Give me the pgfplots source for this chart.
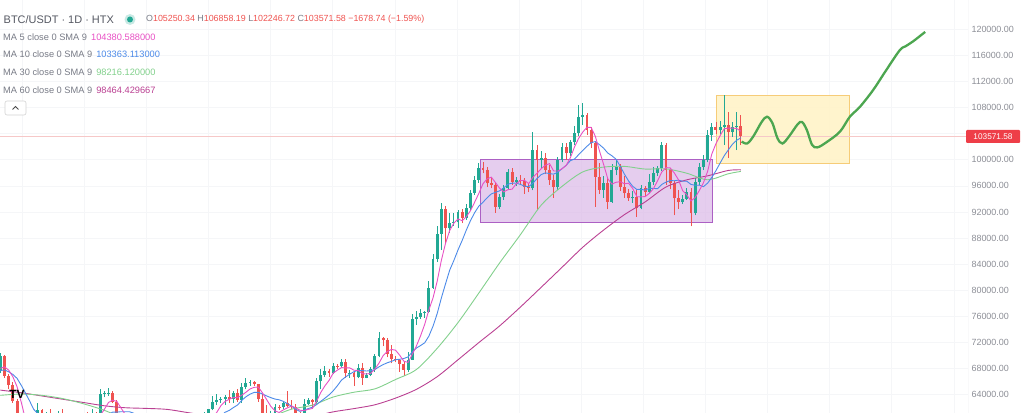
\documentclass[border=0pt]{standalone}
\usepackage{pgfplots}
\pgfplotsset{compat=1.18}
\usepackage{pgfplotstable}
\usepackage{fontspec}
\setmainfont{Liberation Sans}
\definecolor{up}{RGB}{34,168,148}
\definecolor{dn}{RGB}{239,83,80}
\definecolor{ma5}{RGB}{232,80,196}
\definecolor{ma10}{RGB}{76,138,232}
\definecolor{ma30}{RGB}{130,208,140}
\definecolor{ma60}{RGB}{186,64,146}
\definecolor{lbl}{RGB}{120,123,134}
\definecolor{ttl}{RGB}{85,88,98}
\definecolor{tickc}{RGB}{140,142,150}
\definecolor{gridc}{RGB}{245,246,248}
\definecolor{proj}{RGB}{76,166,80}
\definecolor{boxp}{RGB}{222,192,234}
\definecolor{boxpe}{RGB}{172,96,196}
\definecolor{boxy}{RGB}{255,243,200}
\definecolor{boxye}{RGB}{246,204,120}
\definecolor{pricered}{RGB}{238,62,72}
\definecolor{axl}{RGB}{205,207,212}
\definecolor{pline}{RGB}{246,200,200}

\pgfplotstableread{
d o h l c
0 67600 70400 67300 69900
1 69900 70100 66600 66900
2 66900 67200 64800 65500
3 65500 66000 62800 63100
4 63100 63400 60500 60700
5 60700 61100 57200 58100
6 58100 58300 49000 54000
7 54000 57000 53900 56000
8 56000 57700 54500 55100
9 55100 62700 54700 61700
10 61700 61800 59700 60900
11 60900 61400 60300 60950
12 60950 61800 58400 58700
13 58700 60700 57600 59350
14 59350 61500 58500 60600
15 60600 61800 58400 58700
16 58700 59800 56100 57550
17 57550 59800 57100 58900
18 58900 59700 58800 59500
19 59500 60300 58400 58450
20 58450 59600 57800 59500
21 59500 61400 58600 59000
22 59000 61800 58800 61150
23 61150 61400 59800 60400
24 60400 64900 60300 64100
25 64100 64500 63600 64200
26 64200 65000 63800 64250
27 64250 64500 62800 62850
28 62850 63200 58100 59400
29 59400 60200 57800 59050
30 59050 61200 58700 59400
31 59400 59800 57700 59100
32 59100 59400 58700 58950
33 58950 59000 57200 57300
34 57300 59400 57100 59100
35 59100 59800 57400 57500
36 57500 58500 55600 57950
37 57950 58300 55700 56150
38 56150 56900 52500 53950
39 53950 54800 53700 54150
40 54150 55300 53600 54850
41 54850 58100 54600 57050
42 57050 58000 56400 57650
43 57650 57900 55500 57350
44 57350 58600 57300 58100
45 58100 60600 57600 60500
46 60500 60600 59400 60000
47 60000 60400 58700 59150
48 59150 59200 57500 58200
49 58200 61300 57600 60300
50 60300 61800 59200 61750
51 61750 63800 61600 62950
52 62950 64100 62400 63200
53 63200 63600 62800 63350
54 63350 64000 62400 63600
55 63600 64700 62700 63350
56 63350 64500 62700 64300
57 64300 64800 62900 63150
58 63150 65800 62700 65200
59 65200 66500 64800 65800
60 65800 66300 65400 65900
61 65900 66100 65400 65600
62 65600 65700 62900 63300
63 63300 64100 60200 60800
64 60800 62400 59900 60650
65 60650 61500 59800 60750
66 60750 62500 60500 62100
67 62100 62400 61700 62050
68 62050 62900 61800 62800
69 62800 64500 62100 62250
70 62250 63200 61800 62150
71 62150 62500 60300 60600
72 60600 61300 58900 60300
73 60300 63400 60000 62500
74 62500 63500 62400 63200
75 63200 63300 62000 62850
76 62850 66500 62400 66050
77 66050 67900 64800 67050
78 67050 68400 66700 67600
79 67600 67900 66700 67400
80 67400 68900 67100 68400
81 68400 68700 68000 68350
82 68350 69400 68100 69000
83 69000 69500 66600 67350
84 67350 67800 66600 67400
85 67400 67500 65300 66650
86 66650 68700 66500 68150
87 68150 68800 65500 66600
88 66600 67400 66500 67000
89 67000 68300 66800 67950
90 67950 70200 67500 69900
91 69900 73600 69700 72700
92 72700 72900 71400 72350
93 72350 72700 69700 70200
94 70200 71600 68800 69500
95 69500 70000 69000 69350
96 69350 69400 67500 68750
97 68750 69000 66800 67800
98 67800 70500 67500 69350
99 69350 76400 69300 75600
100 75600 76900 74700 75850
101 75850 77200 75600 76500
102 76500 76800 75800 76650
103 76650 81500 76500 80400
104 80400 85600 80200 84800
105 84800 89900 84300 88700
106 88700 93400 86200 92500
107 92500 92900 87100 89500
108 89500 91800 88800 90300
109 90300 91900 89900 90400
110 90400 92300 89500 92000
111 92000 92400 90300 91100
112 91100 93200 90800 92600
113 92600 95400 92300 94900
114 94900 97500 94600 96900
115 96900 99500 96500 98700
116 98700 99600 97900 98500
117 98500 98900 95800 96400
118 96400 97200 95600 96200
119 96200 96500 91900 92800
120 92800 94800 92400 94300
121 94300 96200 93900 95700
122 95700 98600 95400 98100
123 98100 98800 96200 96600
124 96600 97400 96000 96900
125 96900 97600 96100 96800
126 96800 97200 94800 95800
127 95800 96500 95000 95600
128 95600 104200 95300 101500
129 101500 102200 92300 100000
130 100000 101300 98800 100300
131 100300 101000 97800 98400
132 98400 99200 96200 96900
133 96900 97600 94200 95800
134 95800 100400 95400 100000
135 100000 102600 99600 102000
136 102000 102500 100000 101000
137 101000 103000 100600 102700
138 102700 105200 102200 104100
139 104100 108400 103600 106600
140 106600 108700 105300 106900
141 106900 107100 103800 104600
142 104600 105100 101800 102600
143 102600 102900 92800 97400
144 97400 99500 94800 95400
145 95400 97500 94200 96500
146 96500 97400 92400 93600
147 93600 99400 93400 98400
148 98400 99900 97600 98900
149 98900 99400 95200 95800
150 95800 97500 94200 94900
151 94900 95500 93700 94100
152 94100 95200 93400 94300
153 94300 95300 91300 92600
154 92600 96200 92400 95700
155 95700 96000 94500 95100
156 95100 97800 94900 96600
157 96600 98900 96100 98000
158 98000 99000 97500 98700
159 98700 102700 98300 102300
160 102300 102600 96100 98400
161 98400 98700 95500 96400
162 96400 96800 91500 94100
163 94100 95400 92500 93500
164 93500 94600 93200 94000
165 94000 95700 93800 95100
166 95100 95600 89800 91800
167 91800 97200 91500 96600
168 96600 99500 96200 98900
169 98900 100700 98500 100000
170 100000 104500 99600 103800
171 103800 105600 102900 105000
172 105000 105800 103900 104600
173 104600 106000 104000 105100
174 105100 109900 102300 105300
175 105300 107300 100300 104300
176 104300 105800 103500 105000
177 105000 107300 101500 105250.34
178 105250.34 106858.19 102246.72 103571.58
}\candles

\pgfplotstableread{
d ma5 ma10
0 68040 67700
1 68260 67800
2 67760 67500
3 66740 67100
4 65220 66500
5 62860 65450
6 60280 64270
7 58380 63070
8 56780 61760
9 56980 61100
10 57540 60200
11 58930 59600
12 59470 58930
13 60320 58550
14 60100 58540
15 59660 58600
16 58980 58960
17 59020 59250
18 59050 59690
19 58620 59360
20 58780 59220
21 59070 59030
22 59520 59270
23 59700 59380
24 60830 59730
25 61770 60280
26 62820 60950
27 63160 61340
28 62960 61330
29 61950 61390
30 60990 61380
31 59960 61390
32 59180 61170
33 58760 60860
34 58770 60360
35 58390 59690
36 58160 59060
37 57600 58390
38 56930 57850
39 55940 57360
40 55410 56900
41 55230 56700
42 55530 56570
43 56210 56570
44 57000 56470
45 58130 56770
46 58720 56980
47 59020 57280
48 59190 57700
49 59630 58320
50 59880 59000
51 60470 59600
52 61280 60150
53 62310 60750
54 62970 61300
55 63290 61590
56 63560 62020
57 63550 62420
58 63920 63120
59 64360 63670
60 64870 64080
61 65130 64350
62 65160 64360
63 64280 64100
64 63250 63810
65 62220 63550
66 61520 63330
67 61270 63220
68 61670 62980
69 61990 62620
70 62270 62250
71 61970 61750
72 61620 61450
73 61560 61620
74 61750 61870
75 61890 62080
76 62980 62480
77 64330 62980
78 65350 63460
79 66190 63970
80 67300 64600
81 67760 65370
82 68150 66240
83 68100 66730
84 68100 67150
85 67750 67530
86 67710 67740
87 67230 67690
88 67160 67630
89 67270 67690
90 67920 67840
91 68830 68270
92 69980 68610
93 70620 68890
94 70930 69100
95 70820 69370
96 70030 69430
97 69120 69550
98 68950 69790
99 70170 70550
100 71470 71150
101 73020 71530
102 74790 71960
103 77000 72980
104 78840 74510
105 81410 76440
106 84610 78820
107 87180 80990
108 89160 83080
109 90280 84560
110 90940 86180
111 90660 87640
112 91280 89230
113 92200 90680
114 93500 91890
115 94840 92890
116 96320 93490
117 97080 94180
118 97340 94770
119 96520 95010
120 95640 95240
121 95080 95700
122 95420 96250
123 95500 96420
124 96320 96420
125 96820 96230
126 96840 95960
127 96340 95880
128 97320 96410
129 97940 97130
130 98640 97730
131 99160 98000
132 99420 97880
133 98280 97800
134 98280 98110
135 98620 98630
136 99140 99150
137 100300 99860
138 101960 100120
139 103280 100780
140 104260 101440
141 104980 102060
142 104960 102630
143 103620 102790
144 101380 102330
145 99300 101780
146 97100 101040
147 96260 100610
148 96560 100090
149 96640 99010
150 96320 97810
151 96420 96760
152 95600 95930
153 94340 95450
154 94320 95480
155 94360 95340
156 94860 95640
157 95600 95600
158 96820 95580
159 98140 96230
160 98800 96580
161 98760 96810
162 97980 96790
163 96940 96880
164 95280 96710
165 94620 96710
166 93700 96230
167 94200 96090
168 95280 96110
169 96480 95880
170 98220 96420
171 100860 97280
172 102460 98330
173 103700 99490
174 104760 100620
175 104860 101540
176 104860 102400
177 104800 103000
178 104380 103363
}\mashort

\begin{document}
\begin{tikzpicture}
\begin{axis}[
  scale only axis, width=968bp, height=413bp,
  xmin=-0.1, xmax=232.6, ymin=61194, ymax=124490,
  axis line style={draw=none},
  xtick={5.26,20.2,35.1,50.05,64.97,79.9,94.83,109.76,124.7,139.6,154.54,169.47,184.4,199.3,214.25,229.2},
  xticklabel=\empty,
  ytick={64000,68000,72000,76000,80000,84000,88000,92000,96000,100000,108000,112000,116000,120000},
  yticklabel pos=right,
  scaled y ticks=false,
  major tick length=0pt,
  xmajorgrids, ymajorgrids,
  grid style={draw=gridc, line width=0.7bp},
  yticklabel style={/pgf/number format/.cd, fixed, fixed zerofill, precision=2, 1000 sep={}, assume math mode=true},
  ticklabel style={font=\fontsize{9}{10}\selectfont, text=tickc},
  clip=true,
]
% hidden gridline under the price label
\addplot[gridc, line width=0.7bp] coordinates {(-0.1,104000) (232.6,104000)};
% annotation boxes
\addplot[fill=boxp, fill opacity=0.8, draw=boxpe, line width=0.9bp] coordinates {(115.5,90400) (171.1,90400) (171.1,100050) (115.5,100050)} -- cycle;
\addplot[fill=boxy, fill opacity=0.9, draw=boxye, line width=0.9bp] coordinates {(172.2,99460) (204.2,99460) (204.2,109930) (172.2,109930)} -- cycle;
% last price line
\addplot[pline, line width=0.7bp] coordinates {(-0.1,103571.58) (232.6,103571.58)};
% wicks
\addplot[draw=none, mark=none, forget plot,
  restrict expr to domain={\thisrow{c}-\thisrow{o}}{0:1000000},
  error bars/.cd, y dir=plus, y explicit, error mark=none,
  error bar style={line width=0.8bp, draw=up}]
  table[x=d, y=l, y error plus expr={\thisrow{h}-\thisrow{l}}] {\candles};
\addplot[draw=none, mark=none, forget plot,
  restrict expr to domain={\thisrow{c}-\thisrow{o}}{-1000000:-0.001},
  error bars/.cd, y dir=plus, y explicit, error mark=none,
  error bar style={line width=0.8bp, draw=dn}]
  table[x=d, y=l, y error plus expr={\thisrow{h}-\thisrow{l}}] {\candles};
% bodies
\addplot[draw=none, mark=none, forget plot,
  restrict expr to domain={\thisrow{c}-\thisrow{o}}{0:1000000},
  error bars/.cd, y dir=plus, y explicit, error mark=none,
  error bar style={line width=2.9bp, draw=up}]
  table[x=d, y=o, y error plus expr={\thisrow{c}-\thisrow{o}}] {\candles};
\addplot[draw=none, mark=none, forget plot,
  restrict expr to domain={\thisrow{c}-\thisrow{o}}{-1000000:-0.001},
  error bars/.cd, y dir=plus, y explicit, error mark=none,
  error bar style={line width=2.9bp, draw=dn}]
  table[x=d, y=c, y error plus expr={\thisrow{o}-\thisrow{c}}] {\candles};
% moving averages
\addplot[ma60, line width=0.9bp, smooth] coordinates {
(0,64700) (5,64300) (10,63800) (15,63300) (20,62800) (25,62300) (30,62000) (35,61900) (40,61750) (45,61260) (50,60750) (55,60400) (60,60140) (65,60080) (70,60480) (75,60660) (80,61370) (85,61870) (90,62450) (95,63480) (100,64820) (105,66760) (110,69350) (115,71980) (120,74540) (125,77430) (130,80460) (135,83520) (140,86600) (145,89230) (150,91590) (155,93550) (160,95830) (165,96930) (170,97540) (175,98370) (178,98464)};
\addplot[ma30, line width=0.9bp, smooth] coordinates {
(0,63900) (5,64100) (10,63900) (15,63400) (20,62600) (25,61600) (30,60270) (35,59520) (40,59170) (45,58910) (50,59100) (55,59350) (60,60000) (65,60630) (70,61780) (75,62400) (80,63640) (85,64380) (90,64890) (95,66330) (100,67860) (105,71110) (110,75050) (115,79570) (120,84190) (125,88520) (130,93050) (135,95920) (140,98140) (145,98880) (150,98990) (155,98580) (160,98610) (165,97940) (170,96940) (175,97860) (178,98216)};
\addplot[ma10, line width=0.9bp] table[x=d, y=ma10] {\mashort};
\addplot[ma5, line width=0.9bp] table[x=d, y=ma5] {\mashort};
% projection
\addplot[proj, line width=2.3bp, smooth, tension=0.55] coordinates {
(178.2,102800) (179.5,102500) (181,103600) (183,105800) (184.3,106600) (185.6,105600) (186.8,103300) (188,102500) (189.6,103600) (191.6,105400) (192.7,105800) (193.9,104500) (195.1,102300) (196.4,101900) (198.6,102700) (201.8,104300) (204.2,106600) (206.6,108100) (209.8,110700) (213,113800) (216.2,116800) (217.6,117400) (219.5,118200) (222.3,119600)};
% axis borders
\draw[axl, line width=0.9bp] (rel axis cs:1,0) -- (rel axis cs:1,1);
\draw[axl, line width=0.9bp] (rel axis cs:0,0) -- (rel axis cs:1,0);
\end{axis}
% legend texts
\node[anchor=west, inner sep=0pt, text=ttl, font=\fontsize{11}{12}\selectfont] at (3.5bp,393.5bp) {BTC/USDT · 1D · HTX};
\fill[up!25] (130bp,393.5bp) circle (5.5bp);
\fill[up] (130bp,393.5bp) circle (3bp);
\node[anchor=west, inner sep=0pt, font=\fontsize{8.9}{10}\selectfont] at (146bp,393.5bp) {\textcolor{lbl}{O}\textcolor{dn}{105250.34} \textcolor{lbl}{H}\textcolor{dn}{106858.19} \textcolor{lbl}{L}\textcolor{dn}{102246.72} \textcolor{lbl}{C}\textcolor{dn}{103571.58} \textcolor{dn}{−1678.74 (−1.59\%)}};
\node[anchor=west, inner sep=0pt, font=\fontsize{9.3}{10}\selectfont] at (3bp,376.3bp) {\textcolor{lbl}{MA 5 close 0 SMA 9}\hspace{4bp}\textcolor{ma5}{104380.588000}};
\node[anchor=west, inner sep=0pt, font=\fontsize{9.3}{10}\selectfont] at (3bp,358.7bp) {\textcolor{lbl}{MA 10 close 0 SMA 9}\hspace{4bp}\textcolor{ma10}{103363.113000}};
\node[anchor=west, inner sep=0pt, font=\fontsize{9.3}{10}\selectfont] at (3bp,340.7bp) {\textcolor{lbl}{MA 30 close 0 SMA 9}\hspace{4bp}\textcolor{ma30}{98216.120000}};
\node[anchor=west, inner sep=0pt, font=\fontsize{9.3}{10}\selectfont] at (3bp,323bp) {\textcolor{lbl}{MA 60 close 0 SMA 9}\hspace{4bp}\textcolor{ma60}{98464.429667}};
% collapse button
\draw[gray!35, fill=white, rounded corners=2bp, line width=0.6bp] (5bp,298bp) rectangle (26bp,312bp);
\draw[black!70, line width=0.9bp] (12.5bp,303.5bp) -- (15.5bp,306.5bp) -- (18.5bp,303.5bp);
% TV logo
\node[inner sep=0pt, font=\fontsize{12}{12}\selectfont\bfseries] at (17bp,19bp) {TV};
% price label
\fill[pricered, rounded corners=1bp] (966bp,270bp) rectangle (1020bp,283bp);
\node[text=white, inner sep=0pt, font=\fontsize{8.3}{9}\selectfont] at (993bp,276.5bp) {103571.58};
\pgfresetboundingbox
\path[use as bounding box] (0,-2bp) rectangle (1024bp,413bp);
\end{tikzpicture}
\end{document}
